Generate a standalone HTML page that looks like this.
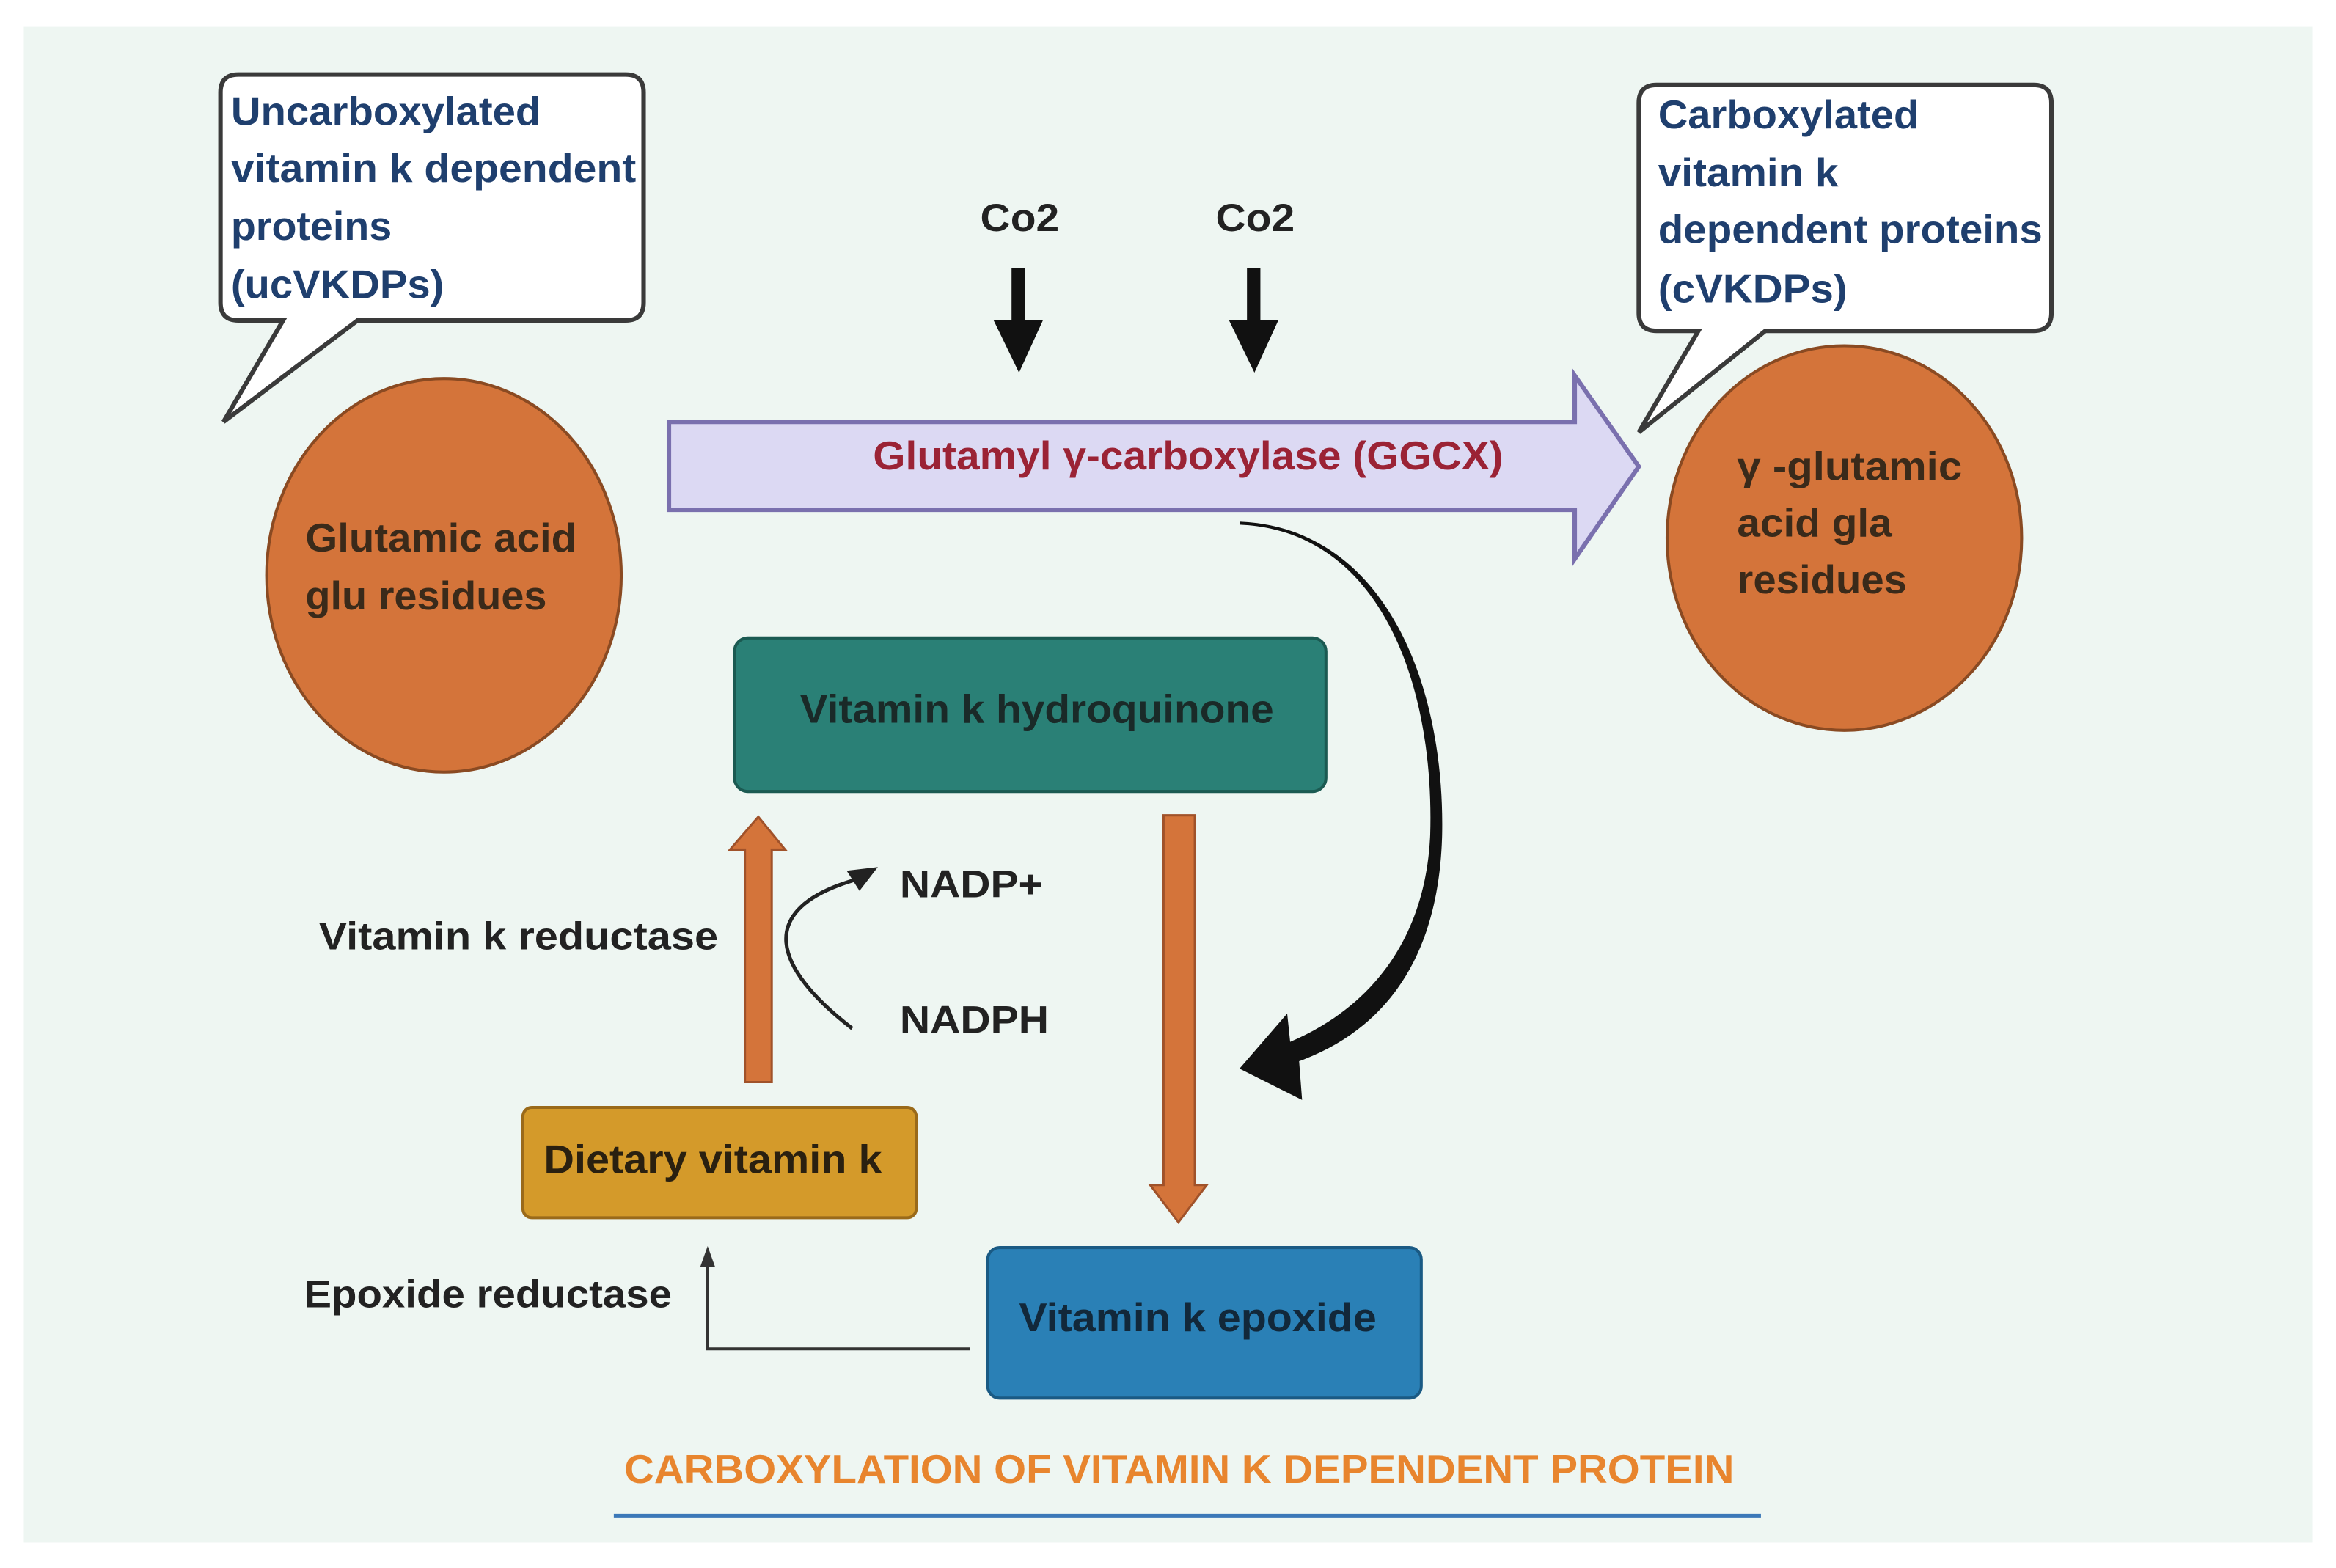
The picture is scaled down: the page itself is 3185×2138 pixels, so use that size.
<!DOCTYPE html>
<html><head><meta charset="utf-8"><style>
html,body{margin:0;padding:0;background:#fff;}
svg{display:block;}
text{font-family:"Liberation Sans",sans-serif;font-weight:700;}
</style></head><body>
<svg width="3185" height="2138" viewBox="0 0 1568 1052" preserveAspectRatio="none" xmlns="http://www.w3.org/2000/svg">
<rect x="0" y="0" width="1568" height="1052" fill="#fff"/>
<rect x="16" y="18" width="1536" height="1017" fill="#eef6f2"/>

<!-- left callout -->
<path d="M160,50 H420 Q432,50 432,62 V203 Q432,215 420,215 H240 L150,283 L190,215 H160 Q148,215 148,203 V62 Q148,50 160,50 Z" fill="#fff" stroke="#3a3a3a" stroke-width="3"/>
<g fill="#1f3f6e" font-size="27">
<text x="155" y="84" textLength="208" lengthAdjust="spacingAndGlyphs">Uncarboxylated</text>
<text x="155" y="122" textLength="272" lengthAdjust="spacingAndGlyphs">vitamin k dependent</text>
<text x="155" y="161" textLength="108" lengthAdjust="spacingAndGlyphs">proteins</text>
<text x="155" y="200" textLength="143" lengthAdjust="spacingAndGlyphs">(ucVKDPs)</text>
</g>

<!-- right callout -->
<path d="M1112,57 H1365 Q1377,57 1377,69 V210 Q1377,222 1365,222 H1185 L1100,290 L1140,222 H1112 Q1100,222 1100,210 V69 Q1100,57 1112,57 Z" fill="#fff" stroke="#3a3a3a" stroke-width="3"/>
<g fill="#1f3f6e" font-size="27">
<text x="1113" y="86" textLength="175" lengthAdjust="spacingAndGlyphs">Carboxylated</text>
<text x="1113" y="125" textLength="121" lengthAdjust="spacingAndGlyphs">vitamin k</text>
<text x="1113" y="163" textLength="258" lengthAdjust="spacingAndGlyphs">dependent proteins</text>
<text x="1113" y="203" textLength="127" lengthAdjust="spacingAndGlyphs">(cVKDPs)</text>
</g>

<!-- circles -->
<ellipse cx="298" cy="386" rx="119" ry="132" fill="#d4743a" stroke="#8a4a22" stroke-width="2"/>
<g fill="#3a2a1a" font-size="27">
<text x="205" y="370" textLength="182" lengthAdjust="spacingAndGlyphs">Glutamic acid</text>
<text x="205" y="409" textLength="162" lengthAdjust="spacingAndGlyphs">glu residues</text>
</g>
<ellipse cx="1238" cy="361" rx="119" ry="129" fill="#d4743a" stroke="#8a4a22" stroke-width="2"/>
<g fill="#3a2a1a" font-size="27">
<text x="1166" y="322" textLength="151" lengthAdjust="spacingAndGlyphs">γ -glutamic</text>
<text x="1166" y="360" textLength="104" lengthAdjust="spacingAndGlyphs">acid gla</text>
<text x="1166" y="398" textLength="114" lengthAdjust="spacingAndGlyphs">residues</text>
</g>

<!-- big arrow -->
<path d="M449,283 H1057 V252 L1100,313 L1057,375 V342 H449 Z" fill="#dcd9f3" stroke="#7a70ae" stroke-width="3"/>
<text x="586" y="315" fill="#9b2335" font-size="27" textLength="423" lengthAdjust="spacingAndGlyphs">Glutamyl γ-carboxylase (GGCX)</text>

<!-- Co2 -->
<g fill="#222" font-size="26">
<text x="658" y="155" textLength="53" lengthAdjust="spacingAndGlyphs">Co2</text>
<text x="816" y="155" textLength="53" lengthAdjust="spacingAndGlyphs">Co2</text>
</g>
<path d="M679,180 H688 V215 H700 L684,250 L667,215 H679 Z" fill="#111"/>
<path d="M837,180 H846 V215 H858 L842,250 L825,215 H837 Z" fill="#111"/>

<!-- curved black arrow -->
<path d="M832,350 C930,354 970,460 968,560 C966,640 932,690 872,712 L874,738 L832,717 L864,680 L866,699 C920,676 957,630 960,560 C963,462 928,356 832,352 Z" fill="#111"/>

<!-- hydroquinone box -->
<rect x="493" y="428" width="397" height="103" rx="9" fill="#2a8076" stroke="#1b5a52" stroke-width="2"/>
<text x="537" y="485" fill="#1a2a28" font-size="27" textLength="318" lengthAdjust="spacingAndGlyphs">Vitamin k hydroquinone</text>

<!-- orange down arrow -->
<path d="M781,547 H802 V795 H810 L791,820 L772,795 H781 Z" fill="#d4743a" stroke="#a0522a" stroke-width="1.5"/>
<!-- orange up arrow -->
<path d="M500,726 H518 V570 H527 L509,548 L490,570 H500 Z" fill="#d4743a" stroke="#a0522a" stroke-width="1.5"/>

<g fill="#222" font-size="26">
<text x="214" y="637" textLength="268" lengthAdjust="spacingAndGlyphs">Vitamin k reductase</text>
<text x="604" y="602" textLength="96" lengthAdjust="spacingAndGlyphs">NADP+</text>
<text x="604" y="693" textLength="100" lengthAdjust="spacingAndGlyphs">NADPH</text>
<text x="204" y="877" textLength="247" lengthAdjust="spacingAndGlyphs">Epoxide reductase</text>
</g>
<!-- NADPH curve -->
<path d="M572,690 C520,650 505,610 575,590" fill="none" stroke="#222" stroke-width="2.5"/>
<path d="M587,583 L570,585 L577,596 Z" fill="#222" stroke="#222" stroke-width="2"/>

<!-- dietary box -->
<rect x="351" y="743" width="264" height="74" rx="6" fill="#d49a2a" stroke="#9a6a1a" stroke-width="2"/>
<text x="365" y="787" fill="#2a2010" font-size="27" textLength="227" lengthAdjust="spacingAndGlyphs">Dietary vitamin k</text>

<!-- epoxide box -->
<rect x="663" y="837" width="291" height="101" rx="8" fill="#2a80b6" stroke="#1a5a84" stroke-width="2"/>
<text x="684" y="893" fill="#12283a" font-size="27" textLength="240" lengthAdjust="spacingAndGlyphs">Vitamin k epoxide</text>

<!-- epoxide reductase line -->
<path d="M651,905 H475 V846" fill="none" stroke="#333" stroke-width="2"/>
<path d="M475,836 L470,850 L480,850 Z" fill="#333"/>

<!-- title -->
<text x="419" y="995" fill="#e8852e" font-size="27" textLength="745" lengthAdjust="spacingAndGlyphs">CARBOXYLATION OF VITAMIN K DEPENDENT PROTEIN</text>
<line x1="412" y1="1017" x2="1182" y2="1017" stroke="#3b78b8" stroke-width="3"/>
</svg>
</body></html>
